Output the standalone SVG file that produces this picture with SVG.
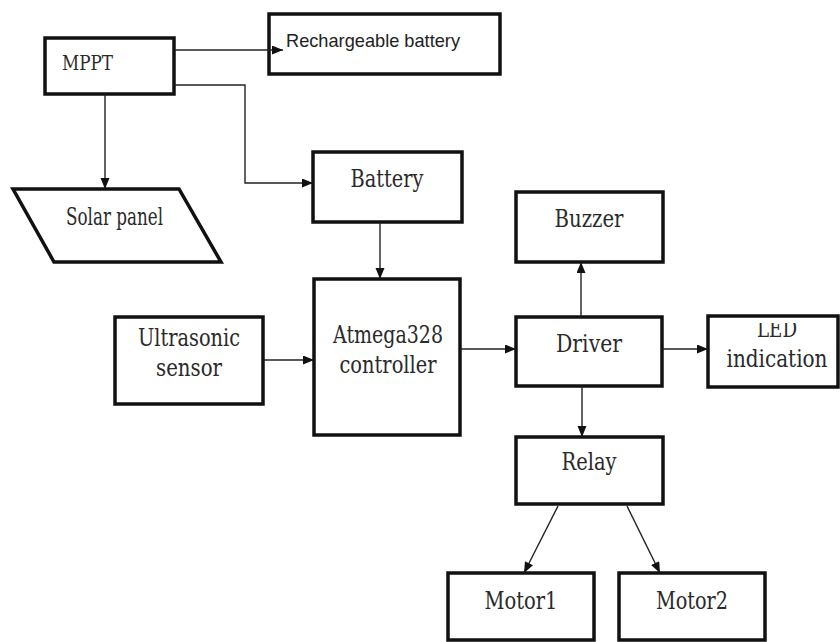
<svg xmlns="http://www.w3.org/2000/svg" width="840" height="642" viewBox="0 0 840 642">
<style>
.box{fill:#fff;stroke:#111;stroke-width:3.5}
.con{fill:none;stroke:#222;stroke-width:1.4}
.t{font-family:"DejaVu Serif","Liberation Serif",serif;font-size:25px;fill:#2a2a2a;text-anchor:middle}
.s{font-family:"Liberation Sans",Arial,sans-serif;font-size:18.5px;fill:#222}
</style>
<defs>
<marker id="ah" markerUnits="userSpaceOnUse" markerWidth="11" markerHeight="10" refX="11" refY="4.5" orient="auto">
<path d="M0,0 L11,4.5 L0,9 z" fill="#111"/>
</marker>
<clipPath id="ledclip"><rect x="700" y="323" width="140" height="70"/></clipPath>
</defs>
<rect width="840" height="642" fill="#fff"/>
<g id="mppt">
<rect class="box" x="45" y="38" width="129" height="56"/>
<text class="t" x="62" y="70" style="text-anchor:start;font-size:20px" textLength="51" lengthAdjust="spacingAndGlyphs">MPPT</text>
</g>
<g id="rechargeable">
<rect class="box" x="269" y="14" width="231" height="60"/>
<text class="s" x="286" y="47" textLength="174" lengthAdjust="spacingAndGlyphs">Rechargeable battery</text>
</g>
<g id="solar">
<polygon class="box" points="13,189 179,189 221,262 54,262"/>
<text class="t" x="114.5" y="225" textLength="97" lengthAdjust="spacingAndGlyphs">Solar panel</text>
</g>
<g id="battery">
<rect class="box" x="313" y="152" width="149" height="70"/>
<text class="t" x="387" y="187" textLength="73" lengthAdjust="spacingAndGlyphs">Battery</text>
</g>
<g id="ultrasonic">
<rect class="box" x="115" y="317" width="148" height="87"/>
<text class="t" x="189" y="346" textLength="102" lengthAdjust="spacingAndGlyphs">Ultrasonic</text>
<text class="t" x="189" y="376" textLength="66" lengthAdjust="spacingAndGlyphs">sensor</text>
</g>
<g id="atmega">
<rect class="box" x="314" y="279" width="146" height="156"/>
<text class="t" x="388" y="343" textLength="110" lengthAdjust="spacingAndGlyphs">Atmega328</text>
<text class="t" x="388" y="373" textLength="97" lengthAdjust="spacingAndGlyphs">controller</text>
</g>
<g id="buzzer">
<rect class="box" x="516" y="192" width="147" height="70"/>
<text class="t" x="589" y="227" textLength="69" lengthAdjust="spacingAndGlyphs">Buzzer</text>
</g>
<g id="driver">
<rect class="box" x="516" y="317" width="146" height="69"/>
<text class="t" x="589" y="352" textLength="66" lengthAdjust="spacingAndGlyphs">Driver</text>
</g>
<g id="led">
<rect class="box" x="708" y="316" width="130" height="71"/>
<text class="t" x="777" y="337" textLength="40" lengthAdjust="spacingAndGlyphs" clip-path="url(#ledclip)">LED</text>
<text class="t" x="777" y="367" textLength="101" lengthAdjust="spacingAndGlyphs">indication</text>
</g>
<g id="relay">
<rect class="box" x="516" y="437" width="147" height="67"/>
<text class="t" x="589" y="470" textLength="55" lengthAdjust="spacingAndGlyphs">Relay</text>
</g>
<g id="motor1">
<rect class="box" x="448" y="573" width="146" height="67"/>
<text class="t" x="521" y="609" textLength="73" lengthAdjust="spacingAndGlyphs">Motor1</text>
</g>
<g id="motor2">
<rect class="box" x="619" y="573" width="146" height="67"/>
<text class="t" x="692" y="609" textLength="72" lengthAdjust="spacingAndGlyphs">Motor2</text>
</g>
<g id="connectors">
<path class="con" d="M174,50 H283" marker-end="url(#ah)"/>
<path class="con" d="M174,85 H245 V183 H313" marker-end="url(#ah)"/>
<path class="con" d="M105,94 V189" marker-end="url(#ah)"/>
<path class="con" d="M380,222 V279" marker-end="url(#ah)"/>
<path class="con" d="M263,360 H314" marker-end="url(#ah)"/>
<path class="con" d="M460,349 H516" marker-end="url(#ah)"/>
<path class="con" d="M581,317 V262" marker-end="url(#ah)"/>
<path class="con" d="M662,349 H708" marker-end="url(#ah)"/>
<path class="con" d="M582,386 V437" marker-end="url(#ah)"/>
<path class="con" d="M558,506 L524,573" marker-end="url(#ah)"/>
<path class="con" d="M627,506 L660,573" marker-end="url(#ah)"/>
</g>
</svg>
